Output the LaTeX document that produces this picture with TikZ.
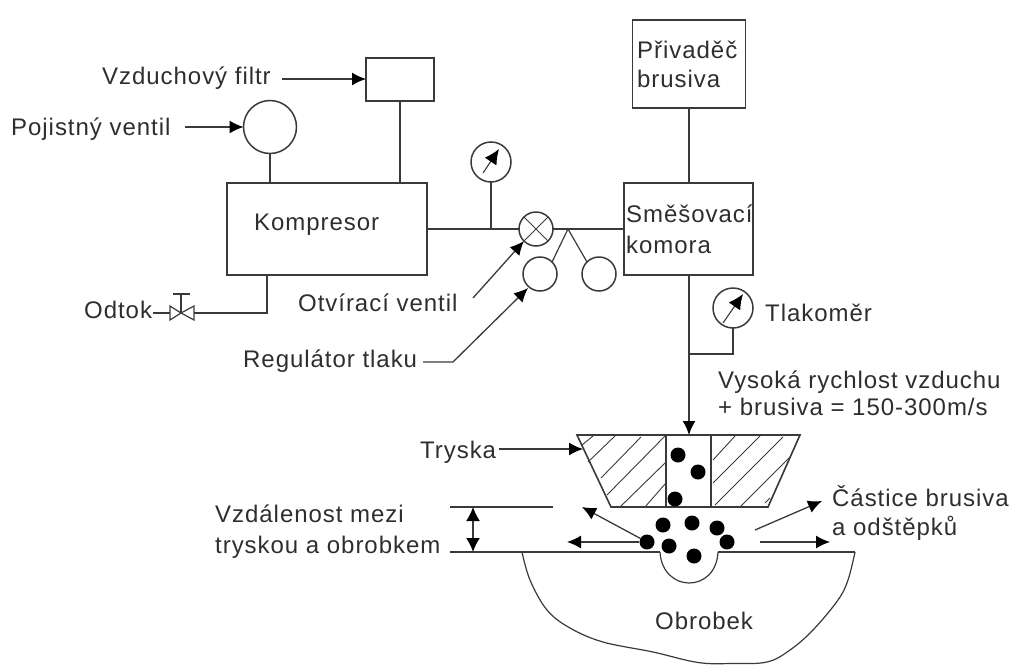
\documentclass[tikz,border=0pt]{standalone}
\usepackage{fontspec}
\setmainfont{Liberation Sans}
\newfontfamily\tagfont[LetterSpace=4]{Liberation Sans}
\usetikzlibrary{calc,positioning,arrows.meta}
\definecolor{InkLine}{HTML}{3A3A3A}
\definecolor{InkText}{HTML}{2E2E2E}
\tikzset{
  partBox/.style={rectangle, draw=InkLine, line width=1.6pt, inner sep=0pt, outer sep=0pt},
  partCircle/.style={circle, draw=InkLine, line width=1.5pt, inner sep=0pt, outer sep=0pt},
  tag/.style={anchor=base west, inner sep=0pt, font=\tagfont\fontsize{24pt}{28pt}\selectfont, text=InkText},
  pipe/.style={draw=InkLine, line width=1.6pt},
  pointer/.style={-{Latex[length=14pt,width=13pt,color=black]}, draw=InkLine, line width=1.3pt},
  needle/.style={-{Latex[length=15pt,width=14pt,color=black]}, draw=InkLine, line width=1.1pt},
  hatchLine/.style={draw=InkLine, line width=0.9pt},
  grain/.style={circle, fill=black, minimum size=15pt, inner sep=0pt}
}
\begin{document}
\begin{tikzpicture}[x=1pt, y=-1pt]
  \useasboundingbox (0,0) rectangle (1009,664);

  % Skrine
  \node[partBox, minimum width=113pt, minimum height=88pt] (privadec) at (689,64) {};
  \node[partBox, minimum width=129pt, minimum height=92pt] (komora) at (688.5,229) {};
  \node[partBox, minimum width=200pt, minimum height=92pt] (kompresor) at (327,229) {};
  \node[partBox, minimum width=68pt, minimum height=43pt] (filtr) at (400,79.5) {};

  % Kruhy
  \node[partCircle, minimum size=53pt] (pojistny) at (270,127) {};
  \node[partCircle, minimum size=40pt] (mano1) at (491,162) {};
  \node[partCircle, minimum size=40pt] (mano2) at (733,308) {};
  \node[partCircle, minimum size=34pt] (otvirak) at (536,229) {};
  \node[partCircle, minimum size=34pt] (regul1) at (540,274) {};
  \node[partCircle, minimum size=34pt] (regul2) at (599,274) {};

  % Popisky
  \node[tag] (tPrivadec) at (637,58) {P\v{r}ivad\v{e}\v{c}};
  \node[tag] (tBrusiva) at (637,87) {brusiva};
  \node[tag] (tSmes) at (626,222) {Sm\v{e}\v{s}ovac\'{\i}};
  \node[tag] (tKomora) at (626,253) {komora};
  \node[tag] (tFiltr) at (102,84) {Vzduchov\'{y} filtr};
  \node[tag] (tPojistny) at (11,135) {Pojistn\'{y} ventil};
  \node[tag] (tKompresor) at (254,230) {Kompresor};
  \node[tag] (tOdtok) at (84,318) {Odtok};
  \node[tag] (tOtvirak) at (298,311) {Otv\'{\i}rac\'{\i} ventil};
  \node[tag] (tRegul) at (243,367) {Regul\'{a}tor tlaku};
  \node[tag] (tTlak) at (765,321) {Tlakom\v{e}r};
  \node[tag] (tVysoka) at (718,388) {Vysok\'{a} rychlost vzduchu};
  \node[tag] (tBrusivo) at (718,415) {+ brusiva = 150-300m/s};
  \node[tag] (tTryska) at (420,458) {Tryska};
  \node[tag] (tVzdal) at (215,522) {Vzd\'{a}lenost mezi};
  \node[tag] (tObrob) at (215,553) {tryskou a obrobkem};
  \node[tag] (tCastice) at (832,506) {\v{C}\'{a}stice brusiva};
  \node[tag] (tOdstep) at (832,535) {a od\v{s}t\v{e}pk\r{u}};
  \node[tag] (tObrobek) at (655,629) {Obrobek};

  % Body na potrubi
  \coordinate (k1) at (491,229);
  \coordinate (k2) at (568,229);
  \coordinate (k3) at (689,354);
  \coordinate (m1) at (689,275);
  \coordinate (m2) at (689,435);
  \coordinate (o1) at (194,313);
  \coordinate (o2) at (170,313);
  \coordinate (o3) at (181,313);
  \coordinate (o4) at (181,294);
  \coordinate (o5) at (267,313);
  \coordinate (o6) at (267,275);
  \coordinate (o7) at (153,313);
  \coordinate (o8) at (170,306);
  \coordinate (o9) at (170,320);
  \coordinate (o10) at (194,306);
  \coordinate (o11) at (194,320);
  \coordinate (t1) at (173,294);
  \coordinate (t2) at (190,294);

  % Potrubi
  \draw[pipe] (privadec.south) -- (privadec.south |- komora.north);
  \draw[pipe] (filtr.south) -- (filtr.south |- kompresor.north);
  \draw[pipe] (pojistny.south) -- (pojistny.south |- kompresor.north);
  \draw[pipe] (kompresor.east) -- (otvirak.west);
  \draw[pipe] (otvirak.east) -- (komora.west);
  \draw[pipe] (mano1.south) -- (k1);
  \draw[pipe, line width=1.2pt] (k2) -- (regul1.north east);
  \draw[pipe, line width=1.2pt] (k2) -- (regul2.north west);
  \draw[pipe] (mano2.south) |- (k3);
  \draw[pipe] (o1) -- (o5) -- (o6);
  \draw[pointer, line width=1.6pt] (m1) -- (m2);

  % Krizek ve ventilu
  \draw[pipe, line width=1pt] (otvirak.north west) -- (otvirak.south east);
  \draw[pipe, line width=1pt] (otvirak.north east) -- (otvirak.south west);

  % Vypust
  \draw[pipe, line width=1.2pt] (o7) -- (o2);
  \draw[pipe, line width=1.2pt] (o3) -- (o4) (t1) -- (t2);
  \draw[pipe, line width=1.2pt] (o3) -- (o8) -- (o9) -- cycle;
  \draw[pipe, line width=1.2pt] (o3) -- (o10) -- (o11) -- cycle;

  % Rucicky manometru
  \coordinate (n1a) at (483,173);
  \coordinate (n1b) at (499,149);
  \coordinate (n2a) at (723,323);
  \coordinate (n2b) at (743,294);
  \draw[needle] (n1a) -- (n1b);
  \draw[needle] (n2a) -- (n2b);

  % Sipky k popiskum
  \coordinate (a1) at (282,79);
  \coordinate (a2) at (185,127);
  \coordinate (a3) at (473,298);
  \coordinate (a4) at (423,362);
  \coordinate (a5) at (453,362);
  \coordinate (a6) at (528,288);
  \coordinate (a7) at (499,449);
  \coordinate (a8) at (583,449);
  \draw[pointer] (a1) -- (filtr.west |- a1);
  \draw[pointer] (a2) -- (pojistny.west);
  \draw[pointer] (a3) -- (otvirak.south west);
  \draw[pointer] (a4) -- (a5) -- (a6);
  \draw[pointer] (a7) -- (a8);

  % Tryska
  \coordinate (nA) at (577,435);
  \coordinate (nB) at (800,435);
  \coordinate (nC) at (768,507);
  \coordinate (nD) at (611,507);
  \coordinate (wA) at (666,435);
  \coordinate (wB) at (666,507);
  \coordinate (wC) at (711,435);
  \coordinate (wD) at (711,507);
  \draw[pipe] (nA) -- (nB) -- (nC) -- (nD) -- cycle;
  \draw[pipe] (wA) -- (wB);
  \draw[pipe] (wC) -- (wD);
  \foreach \xa/\ya/\xb/\yb in {582/445/593/436, 588/462/616/435, 601/478/641/437, 607/495/665/436, 620/507/665/463, 645/507/665/484,
    713/460/735/436, 713/483/760/436, 715/505/783/437, 740/507/790/457, 765/503/770/498}
    \draw[hatchLine] (\xa,\ya) -- (\xb,\yb);

  % Obrobek
  \coordinate (pL) at (522,552);
  \coordinate (pR) at (855,552);
  \coordinate (gL) at (660,552);
  \coordinate (gR) at (718,552);
  \draw[pipe] (pL) -- (gL);
  \draw[pipe] (gR) -- (pR);
  \draw[pipe, line width=1.2pt] (gL) .. controls (661,572) and (675,583) .. (689,583) .. controls (704,583) and (717,572) .. (gR);
  \draw[pipe, line width=1.2pt] plot[smooth, tension=0.6] coordinates {(522,552) (530,580) (547,610) (570,628) (603,642) (653,652) (698,662.5) (732,663.5) (767,662) (790,650) (813,630) (838,600) (848,580) (855,552)};

  % Odstup
  \coordinate (d1) at (450,507);
  \coordinate (d2) at (553,507);
  \coordinate (d3) at (450,552);
  \coordinate (d4) at (473,507);
  \coordinate (d5) at (473,552);
  \draw[pipe] (d1) -- (d2);
  \draw[pipe] (d3) -- (pL);
  \draw[pointer, {Latex[length=14pt,width=14pt,color=black]}-{Latex[length=14pt,width=14pt,color=black]}, line width=1.6pt] (d4) -- (d5);

  % Zrna
  \foreach \n/\xg/\yg in {g1/678/455, g2/698/472, g3/675/499, g4/663/525, g5/692/523, g6/717/528, g7/727/542, g8/647/542, g9/669/546, g10/694/556}
    \node[grain] (\n) at (\xg,\yg) {};

  % Odlet castic
  \coordinate (f1) at (582,507);
  \coordinate (f2) at (567,542);
  \coordinate (f3) at (755,530);
  \coordinate (f4) at (822,501);
  \coordinate (f5) at (760,542);
  \coordinate (f6) at (830,542);
  \draw[pointer] (g8) -- (f1);
  \draw[pointer] (g8) -- (f2);
  \draw[pointer] (f3) -- (f4);
  \draw[pointer] (f5) -- (f6);
\end{tikzpicture}
\end{document}
